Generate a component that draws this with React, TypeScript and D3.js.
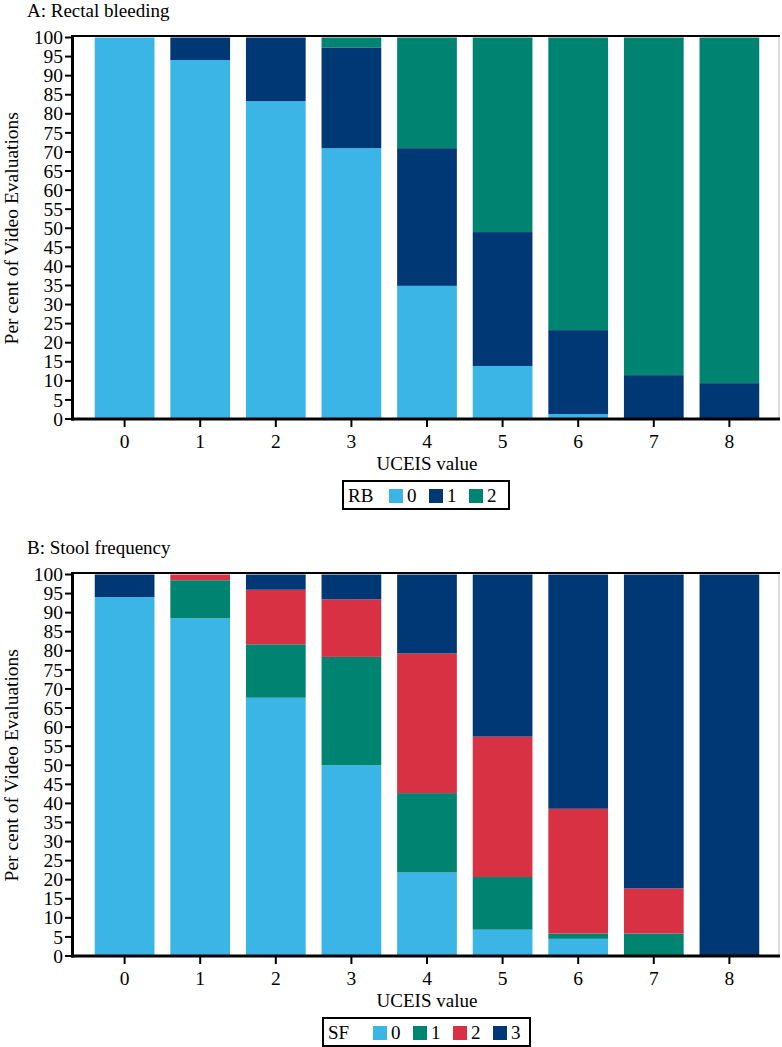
import React from "react";
import * as d3 from "d3";

const categories = ["0", "1", "2", "3", "4", "5", "6", "7", "8"];
const yTicks = [0, 5, 10, 15, 20, 25, 30, 35, 40, 45, 50, 55, 60, 65, 70, 75, 80, 85, 90, 95, 100];

// Panel A: Rectal bleeding
const rbKeys = ["0", "1", "2"];
const rb0 = [100, 94.1, 83.3, 71.0, 34.9, 13.9, 1.3, 0, 0];
const rb1 = [0, 5.9, 16.7, 26.4, 36.1, 35.1, 22.0, 11.5, 9.4];
const rb2 = [0, 0, 0, 2.6, 29.0, 51.0, 76.7, 88.5, 90.6];

// Panel B: Stool frequency
const sfKeys = ["0", "1", "2", "3"];
const sf0 = [94.1, 88.5, 67.7, 50.0, 21.9, 6.9, 4.5, 0, 0];
const sf1 = [0, 10.0, 14.0, 28.4, 20.8, 13.8, 1.4, 5.9, 0];
const sf2 = [0, 1.5, 14.3, 15.1, 36.6, 36.8, 32.7, 11.8, 0];
const sf3 = [5.9, 0, 4.0, 6.5, 20.7, 42.5, 61.4, 82.3, 100];

const LIGHT = "#3AB5E6";
const NAVY = "#003876";
const TEAL = "#008472";
const RED = "#D93144";

const rbColors = [LIGHT, NAVY, TEAL];
const sfColors = [LIGHT, TEAL, RED, NAVY];

const FONT = "'Liberation Serif', 'Times New Roman', serif";

type PanelProps = {
  top: number;
  title: string;
  keys: string[];
  series: number[][];
  colors: string[];
  legendTitle: string;
  legendX: number;
  legendW: number;
  legendTitleW: number;
};

function Panel({ top, title, keys, series, colors, legendTitle, legendX, legendW, legendTitleW }: PanelProps) {
  const plotL = 74;
  const plotR = 780;
  const yTop = top + 37.5;
  const yBot = top + 419;
  const x = d3.scaleBand<string>().domain(categories).range([plotL, plotR]).paddingInner(0.21).paddingOuter(0.2745);
  const y = d3.scaleLinear().domain([0, 100]).range([yBot, yTop]);
  const rows = categories.map((c, i) => {
    const r: any = { cat: c };
    keys.forEach((k, j) => (r[k] = series[j][i]));
    return r;
  });
  const stacked = d3.stack<any>().keys(keys)(rows);
  const legendTop = top + 481;
  return (
    <g>
      <text x={27} y={top + 17} fontFamily={FONT} fontSize={19} fill="#000">{title}</text>
      {stacked.map((layer, li) => (
        <g key={li} fill={colors[li]}>
          {layer.map((d, i) => {
            const h = y(d[0]) - y(d[1]);
            if (h <= 0) return null;
            return (
              <rect key={i} x={x(categories[i])} y={y(d[1])} width={x.bandwidth()} height={h} />
            );
          })}
        </g>
      ))}
      {/* frame */}
      <line x1={plotR - 1} x2={plotR - 1} y1={yTop - 3} y2={yBot} stroke="#bbb" strokeWidth={1} />
      <line x1={plotL} x2={plotR} y1={yTop - 1.5} y2={yTop - 1.5} stroke="#000" strokeWidth={2} />
      <line x1={plotL - 1.5} x2={plotL - 1.5} y1={yTop - 2.5} y2={yBot + 1.5} stroke="#000" strokeWidth={3} />
      <line x1={plotL - 3} x2={plotR} y1={yBot} y2={yBot} stroke="#000" strokeWidth={3} />
      {yTicks.map((t) => (
        <g key={t}>
          <line x1={65} x2={plotL} y1={y(t)} y2={y(t)} stroke="#000" strokeWidth={2} />
          <text x={63} y={y(t)} dy="0.34em" textAnchor="end" fontFamily={FONT} fontSize={19.5} fill="#000">{t}</text>
        </g>
      ))}
      {categories.map((c) => {
        const cx = (x(c) as number) + x.bandwidth() / 2;
        return (
          <g key={c}>
            <line x1={cx} x2={cx} y1={yBot} y2={yBot + 8} stroke="#000" strokeWidth={2} />
            <text x={cx} y={top + 448} textAnchor="middle" fontFamily={FONT} fontSize={19.5} fill="#000">{c}</text>
          </g>
        );
      })}
      <text x={427} y={top + 470} textAnchor="middle" fontFamily={FONT} fontSize={19} fill="#000">UCEIS value</text>
      <text transform={`translate(18,${(yTop + yBot) / 2}) rotate(-90)`} textAnchor="middle" fontFamily={FONT} fontSize={19.5} fill="#000">Per cent of Video Evaluations</text>
      {/* legend */}
      <rect x={legendX} y={legendTop} width={legendW} height={28} fill="none" stroke="#000" strokeWidth={2} />
      <text x={legendX + 5} y={legendTop + 21} fontFamily={FONT} fontSize={19} fill="#000">{legendTitle}</text>
      {keys.map((k, i) => {
        const sx = legendX + legendTitleW + i * 40;
        return (
          <g key={k}>
            <rect x={sx} y={legendTop + 8} width={14} height={14} fill={colors[i]} />
            <text x={sx + 18} y={legendTop + 21} fontFamily={FONT} fontSize={19} fill="#000">{k}</text>
          </g>
        );
      })}
    </g>
  );
}

export default function App() {
  return (
    <svg width={782} height={1047} style={{ position: "absolute", left: 0, top: 0, background: "#fff" }}>
      <rect width={782} height={1047} fill="#fff" />
      <Panel top={0} title="A: Rectal bleeding" keys={rbKeys} series={[rb0, rb1, rb2]} colors={rbColors}
        legendTitle="RB" legendX={343} legendW={166} legendTitleW={46} />
      <Panel top={537} title="B: Stool frequency" keys={sfKeys} series={[sf0, sf1, sf2, sf3]} colors={sfColors}
        legendTitle="SF" legendX={323} legendW={207} legendTitleW={50} />
    </svg>
  );
}
